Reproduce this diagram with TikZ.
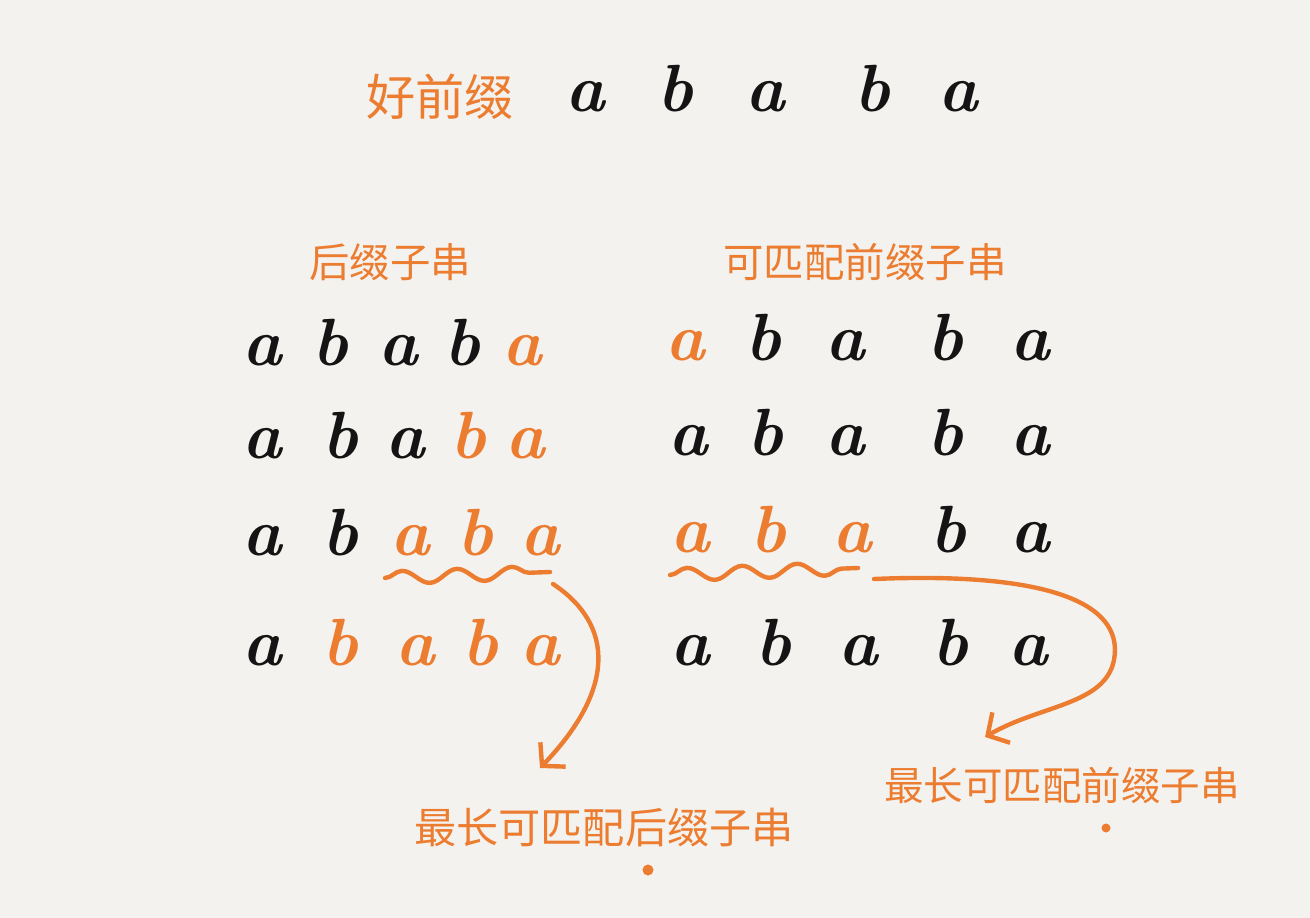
\documentclass[tikz,border=0pt]{standalone}
\usepackage{fontspec}
\newfontfamily\cjk{Noto Sans CJK SC}
\usepackage{tikz}
\usetikzlibrary{arrows.meta, decorations.pathmorphing}
\definecolor{Paper}{RGB}{244,242,238}
\definecolor{Pen_Orange}{RGB}{236,124,48}
\definecolor{Pen_Ink}{RGB}{20,20,20}

\begin{document}
\begin{tikzpicture}[
    x=0.02cm, y=-0.02cm,
    ltr/.style={font=\fontsize{38}{38}\selectfont\bfseries\itshape, text=Pen_Ink,
                inner sep=0pt, anchor=base},
    hi/.style={ltr, text=Pen_Orange},
    title/.style={font=\cjk\fontsize{23}{23}\selectfont, text=Pen_Orange, inner sep=0pt},
    wave/.style={draw=Pen_Orange, line width=2.5pt, line cap=round, decorate,
                 decoration={snake, segment length=1.1cm, amplitude=0.13cm}},
    arrow/.style={-{Straight Barb[length=9pt, width=20pt]}, draw=Pen_Orange,
                  line width=2.5pt, line cap=round}
]

% paper
\fill[Paper] (0,0) rectangle (1310,918);
\useasboundingbox (0,0) rectangle (1310,918);

% good prefix
\node[title, font=\cjk\fontsize{28}{28}\selectfont] (good) at (440,97) {好前缀};
\foreach \x/\t [count=\i] in {585/a,675/b,765/a,872/b,958/a}
    \node[ltr] (g\i) at (\x,112) {\t};

% headings
\node[title] (suffix) at (390,262) {后缀子串};
\node[title] (prefix) at (865,262) {可匹配前缀子串};

% suffix substrings
\foreach \x/\t/\s [count=\i] in {262/a/ltr,330/b/ltr,398/a/ltr,462/b/ltr,522/a/hi}
    \node[\s] (s1\i) at (\x,365) {\t};
\foreach \x/\t/\s [count=\i] in {262/a/ltr,340/b/ltr,405/a/ltr,468/b/hi,525/a/hi}
    \node[\s] (s2\i) at (\x,458) {\t};
\foreach \x/\t/\s [count=\i] in {262/a/ltr,340/b/ltr,410/a/hi,475/b/hi,540/a/hi}
    \node[\s] (s3\i) at (\x,555) {\t};
\foreach \x/\t/\s [count=\i] in {262/a/ltr,340/b/hi,415/a/hi,480/b/hi,540/a/hi}
    \node[\s] (s4\i) at (\x,665) {\t};

% matching prefix substrings
\foreach \x/\t/\s [count=\i] in {685/a/hi,763/b/ltr,845/a/ltr,945/b/ltr,1030/a/ltr}
    \node[\s] (p1\i) at (\x,360) {\t};
\foreach \x/\t/\s [count=\i] in {688/a/ltr,765/b/ltr,845/a/ltr,945/b/ltr,1030/a/ltr}
    \node[\s] (p2\i) at (\x,455) {\t};
\foreach \x/\t/\s [count=\i] in {690/a/hi,768/b/hi,852/a/hi,948/b/ltr,1030/a/ltr}
    \node[\s] (p3\i) at (\x,552) {\t};
\foreach \x/\t/\s [count=\i] in {690/a/ltr,773/b/ltr,858/a/ltr,950/b/ltr,1028/a/ltr}
    \node[\s] (p4\i) at (\x,665) {\t};

% results
\node[title, font=\cjk\fontsize{24}{24}\selectfont] (longsuf) at (604,828) {最长可匹配后缀子串};
\node[title, font=\cjk\fontsize{22.5}{22.5}\selectfont] (longpre) at (1062,785) {最长可匹配前缀子串};
\fill[Pen_Orange] (648,870) circle (0.11cm);
\fill[Pen_Orange] (1106,828) circle (0.09cm);

% wavy marks
\coordinate (ws) at (385,578);
\coordinate (we) at (550,572);
\coordinate (vs) at (670,575);
\coordinate (ve) at (858,568);
\draw[wave] (ws) -- (we);
\draw[wave] (vs) -- (ve);

% arrows
\coordinate (a1) at (553,584);
\coordinate (a2) at (874,579);
\draw[arrow] (a1) .. controls (615,625) and (615,690) .. (540,768);
\draw[arrow] (a2) .. controls (1040,572) and (1125,600) .. (1114,660)
                  .. controls (1105,705) and (1040,705) .. (985,737);

\end{tikzpicture}
\end{document}
